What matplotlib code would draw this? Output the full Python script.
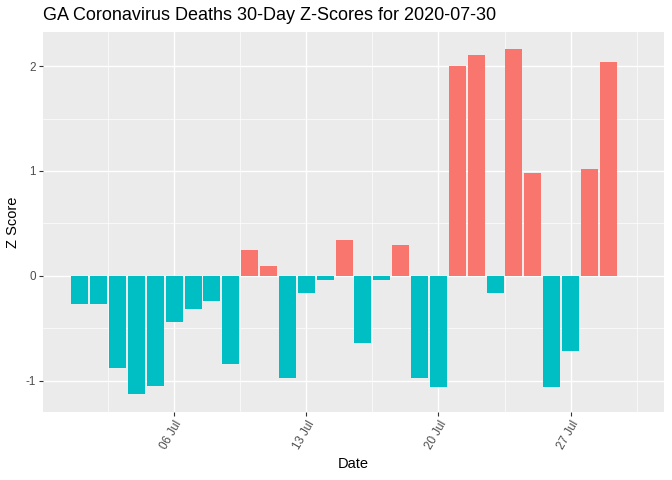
import matplotlib
matplotlib.use("Agg")
import matplotlib.pyplot as plt
import matplotlib.dates as mdates
import numpy as np

plt.rcParams["font.family"] = ["Liberation Sans", "DejaVu Sans"]

# 30-day window ending on 2020-07-30 (last day has no bar)
dates = np.arange(np.datetime64("2020-07-01"), np.datetime64("2020-07-31"))
z_scores = [
    -0.27, -0.27, -0.88, -1.13, -1.05, -0.44, -0.32, -0.24, -0.84, 0.25,
    0.09, -0.97, -0.16, -0.04, 0.34, -0.64, -0.04, 0.29, -0.97, -1.06,
    2.00, 2.11, -0.16, 2.16, 0.98, -1.06, -0.72, 1.02, 2.04, 0.0,
]
tick_dates = ["2020-07-06", "2020-07-13", "2020-07-20", "2020-07-27"]
tick_labels = ["06 Jul", "13 Jul", "20 Jul", "27 Jul"]

POS = "#F8766D"
NEG = "#00BFC4"

fig = plt.figure(figsize=(6.72, 4.8), dpi=100)
ax = fig.add_axes([43 / 672, 1 - 411.7 / 480, (664 - 43) / 672, (411.7 - 32) / 480])
ax.set_facecolor("#EBEBEB")

x = mdates.date2num(dates.astype("datetime64[D]").astype(object))
vals = np.array(z_scores)
colors = [POS if v > 0 else NEG for v in vals]
ax.bar(x, vals, width=0.9, color=colors, zorder=3)

# ggplot-style 5% expansion
lo, hi = x[0] - 0.45, x[-1] + 0.45
pad = (hi - lo) * 0.05
ax.set_xlim(lo - pad, hi + pad)
ymin, ymax = min(vals.min(), 0), max(vals.max(), 0)
ypad = (ymax - ymin) * 0.05
ax.set_ylim(ymin - ypad, ymax + ypad)

tx = mdates.date2num(np.array(tick_dates, dtype="datetime64[D]").astype(object))
ax.set_xticks(tx)
ax.set_xticklabels(tick_labels, rotation=60, ha="right", va="top",
                   rotation_mode="anchor", fontsize=8.4, color="#4D4D4D")
minor_x = np.concatenate(([tx[0] - 3.5], (tx[:-1] + tx[1:]) / 2, [tx[-1] + 3.5]))
ax.set_xticks(minor_x, minor=True)

ax.set_yticks([-1, 0, 1, 2])
ax.set_yticklabels(["-1", "0", "1", "2"], fontsize=8.4, color="#4D4D4D")
ax.set_yticks([-0.5, 0.5, 1.5], minor=True)

ax.grid(which="major", color="white", linewidth=1.0, zorder=0)
ax.grid(which="minor", color="white", linewidth=0.5, zorder=0)
ax.set_axisbelow(True)
ax.tick_params(which="major", length=3, width=0.8, color="#333333", pad=2)
ax.tick_params(which="minor", length=0)
for s in ax.spines.values():
    s.set_visible(False)

ax.set_xlabel("Date", fontsize=10.5, labelpad=4)
ax.set_ylabel("Z Score", fontsize=10.5, labelpad=4)
fig.text(43 / 672, 1 - 15 / 480, "GA Coronavirus Deaths 30-Day Z-Scores for 2020-07-30",
         fontsize=12.95, ha="left", va="center")

fig.savefig("out.png", dpi=100)
